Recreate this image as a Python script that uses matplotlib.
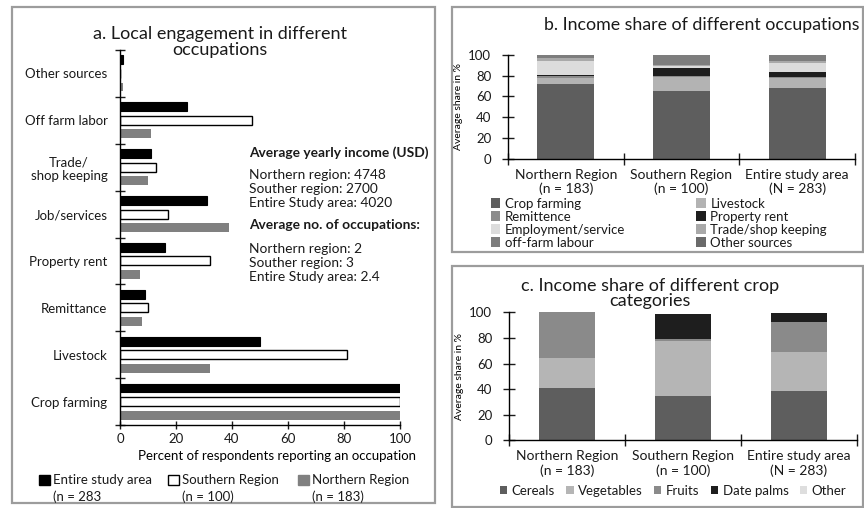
import matplotlib
matplotlib.use("Agg")
import matplotlib.pyplot as plt
from matplotlib.patches import Patch, Rectangle
import numpy as np

plt.rcParams['font.family'] = ['Lato', 'DejaVu Sans']
plt.rcParams['text.color'] = '#1a1a1a'
plt.rcParams['xtick.color'] = '#1a1a1a'
plt.rcParams['ytick.color'] = '#1a1a1a'

# a. share of respondents engaged in each occupation (%), bottom to top
occupations = ["Crop farming", "Livestock", "Remittance", "Property rent",
               "Job/services", "Trade/\nshop keeping", "Off farm labor", "Other sources"]
entire_pct = [100, 50, 9, 16, 31, 11, 24, 1]
southern_pct = [100, 81, 10, 32, 17, 13, 47, 0]
northern_pct = [100, 32, 8, 7, 39, 10, 11, 1.2]
group_labels = ["Entire study area", "Southern Region", "Northern Region"]
group_sizes = ["(n = 283", "(n = 100)", "(n = 183)"]

income_notes = ["Northern region: 4748", "Souther region: 2700", "Entire Study area: 4020"]
occupation_notes = ["Northern region: 2", "Souther region: 3", "Entire Study area: 2.4"]

# b. average income share by occupation (%)
regions = ["Northern Region\n(n = 183)", "Southern Region\n(n = 100)", "Entire study area\n(N = 283)"]
income_sources = ["Crop farming", "Livestock", "Remittence", "Property rent",
                  "Employment/service", "Trade/shop keeping", "off-farm labour", "Other sources"]
crop_farming_share = [71.5, 65.4, 68.0]
livestock_share = [6.4, 12.8, 9.6]
remittence_share = [1.6, 1.3, 1.3]
property_rent_share = [1.3, 7.4, 4.2]
employment_share = [12.8, 2.5, 9.0]
trade_share = [3.2, 1.0, 2.2]
off_farm_share = [3.0, 9.4, 5.5]
other_sources_share = [0.2, 0.2, 0.2]

# c. average income share by crop category (%)
crop_categories = ["Cereals", "Vegetables", "Fruits", "Date palms", "Other"]
cereals_share = [40.8, 34.6, 38.8]
vegetables_share = [23.5, 43.2, 30.2]
fruits_share = [35.7, 1.5, 23.4]
date_palms_share = [0.0, 19.0, 7.1]
other_crop_share = [0.0, 0.7, 0.0]

source_colors = ["#5e5e5e", "#b3b3b3", "#8c8c8c", "#1e1e1e",
                 "#dcdcdc", "#a9a9a9", "#7d7d7d", "#6a6a6a"]
crop_colors = ["#5e5e5e", "#b5b5b5", "#8a8a8a", "#1e1e1e", "#dedede"]

W, H = 864, 508
fig = plt.figure(figsize=(W / 100, H / 100), dpi=100)


def fx(px):
    return px / W


def fy(py):
    return 1 - py / H


def axes_at(x0, y0, x1, y1):
    return fig.add_axes([fx(x0), fy(y1), fx(x1) - fx(x0), fy(y0) - fy(y1)])


# grey frames round the three panels
for x0, y0, x1, y1 in [(12, 7, 435, 503), (452, 7, 863, 252), (452, 266, 863, 507)]:
    fig.add_artist(Rectangle((fx(x0), fy(y1)), fx(x1) - fx(x0), fy(y0) - fy(y1),
                             transform=fig.transFigure, fill=False,
                             edgecolor="#9c9c9c", lw=1.6))


def style_spines(ax):
    for side in ["top", "right"]:
        ax.spines[side].set_visible(False)
    for side in ["left", "bottom"]:
        ax.spines[side].set_linewidth(1.0)
        ax.spines[side].set_color("black")


# ---- a. horizontal grouped bars ----
ax_a = axes_at(120, 50, 400, 425)
y = np.arange(len(occupations))
off, h = 0.29, 0.19
ax_a.barh(y + off, entire_pct, height=h, color="black", edgecolor="black", lw=0.8)
ax_a.barh(y, southern_pct, height=h, color="white", edgecolor="black", lw=1.0)
ax_a.barh(y - off, northern_pct, height=h, color="#808080", lw=0)
ax_a.set_xlim(0, 100)
ax_a.set_ylim(-0.5, len(occupations) - 0.5)
style_spines(ax_a)
ax_a.set_xticks(np.arange(0, 101, 20))
ax_a.set_yticks(y)
ax_a.set_yticklabels(occupations)
for lab in ax_a.get_yticklabels():
    lab.set_multialignment("center")
ax_a.set_yticks(np.arange(-0.5, len(occupations), 1), minor=True)
ax_a.tick_params(axis="y", which="major", length=0, pad=9, labelsize=9.5)
ax_a.tick_params(axis="y", which="minor", direction="inout", length=7, width=1)
ax_a.tick_params(axis="x", direction="inout", length=6, width=1, pad=3, labelsize=9.5)
ax_a.set_xlabel("Percent of respondents reporting an occupation", fontsize=9.5, labelpad=5)
ax_a.xaxis.set_label_coords(0.56, -0.068)

fig.text(fx(220), fy(41.5), "a. Local engagement in different\noccupations",
         ha="center", va="center", fontsize=13, linespacing=1.0)

note_x = fx(249)
note_size = 9.9
fig.text(note_x, fy(153), "Average yearly income (USD)", fontsize=note_size,
         fontweight="bold", va="center")
for py, note in zip([175, 189, 203], income_notes):
    fig.text(note_x, fy(py), note, fontsize=note_size, va="center")
fig.text(note_x, fy(225), "Average no. of occupations:", fontsize=note_size,
         fontweight="bold", va="center")
for py, note in zip([249, 263, 277], occupation_notes):
    fig.text(note_x, fy(py), note, fontsize=note_size, va="center")

# one legend per group so each entry sits where it should
leg_a_handles = [Patch(facecolor="black", edgecolor="black"),
                 Patch(facecolor="white", edgecolor="black", lw=1),
                 Patch(facecolor="#808080", edgecolor="#808080")]
leg_a = []
for handle, label, px in zip(leg_a_handles, group_labels, [39, 168, 298]):
    leg_a.append(fig.legend([handle], [label], loc="upper left",
                            bbox_to_anchor=(fx(px), fy(474.5)), frameon=False,
                            fontsize=9.5, handlelength=0.8, handleheight=0.75,
                            handletextpad=0.25, borderpad=0, borderaxespad=0))

# ---- b. income share by occupation ----
ax_b = axes_at(508, 54.7, 855, 159)
xpos = np.arange(len(regions))
bottom = np.zeros(len(regions))
b_series = [crop_farming_share, livestock_share, remittence_share, property_rent_share,
            employment_share, trade_share, off_farm_share, other_sources_share]
b_bars = []
for vals, col in zip(b_series, source_colors):
    b_bars.append(ax_b.bar(xpos, vals, width=0.49, bottom=bottom, color=col, lw=0))
    bottom += np.array(vals)

# ---- c. income share by crop category ----
ax_c = axes_at(509, 312.3, 857, 440.3)
bottom = np.zeros(len(regions))
c_series = [cereals_share, vegetables_share, fruits_share, date_palms_share, other_crop_share]
c_bars = []
for vals, col in zip(c_series, crop_colors):
    c_bars.append(ax_c.bar(xpos, vals, width=0.49, bottom=bottom, color=col, lw=0))
    bottom += np.array(vals)

for ax in (ax_b, ax_c):
    style_spines(ax)
    ax.set_xlim(-0.5, len(regions) - 0.5)
    ax.set_ylim(0, 100)
    ax.set_yticks(np.arange(0, 101, 20))
    ax.set_xticks(xpos)
    ax.set_xticklabels(regions)
    ax.set_xticks(np.arange(-0.5, len(regions), 1), minor=True)
    ax.tick_params(axis="x", which="major", length=0, pad=7, labelsize=10)
    ax.tick_params(axis="x", which="minor", direction="inout", length=8, width=1)
    ax.tick_params(axis="y", direction="inout", length=8, width=1, pad=8, labelsize=9.5)
    ax.set_ylabel("Average share in %", fontsize=7.5, labelpad=4)

fig.text(fx(702), fy(25), "b. Income share of different occupations",
         ha="center", va="center", fontsize=12.8)
fig.text(fx(650), fy(293.5), "c. Income share of different crop\ncategories",
         ha="center", va="center", fontsize=13, linespacing=0.95)

# legend b reads row by row, so feed it column by column
order = [0, 2, 4, 6, 1, 3, 5, 7]
fig.legend([b_bars[i] for i in order], [income_sources[i] for i in order],
           loc="upper left", bbox_to_anchor=(fx(491), fy(197.5)), ncol=2,
           frameon=False, fontsize=9.5, handlelength=0.7, handleheight=0.7,
           handletextpad=0.35, labelspacing=0.08, columnspacing=5.4,
           borderpad=0, borderaxespad=0)

fig.legend(c_bars, crop_categories, loc="upper left",
           bbox_to_anchor=(fx(500), fy(485)), ncol=5, frameon=False,
           fontsize=9.5, handlelength=0.55, handleheight=0.55,
           handletextpad=0.35, columnspacing=0.85, borderpad=0, borderaxespad=0)

# sample sizes go on a second line under each panel-a legend entry
fig.canvas.draw()
renderer = fig.canvas.get_renderer()
for leg, size in zip(leg_a, group_sizes):
    bb = leg.get_texts()[0].get_window_extent(renderer)
    fig.text(bb.x0 / W, bb.y0 / H - 0.007, size, fontsize=9.5, va="top", ha="left")

fig.savefig("out.png", dpi=100)
